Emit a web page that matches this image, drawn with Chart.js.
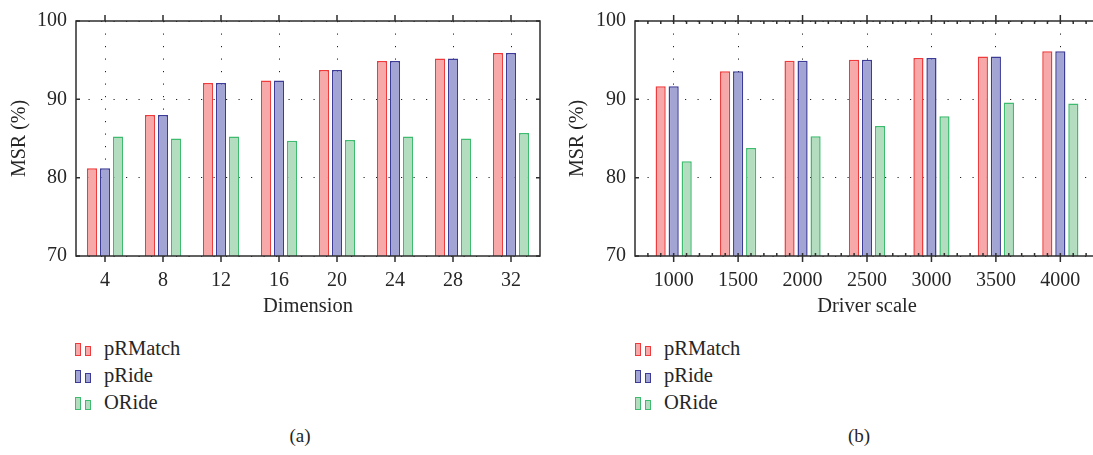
<!DOCTYPE html>
<html>
<head>
<meta charset="utf-8">
<script src="https://cdn.jsdelivr.net/npm/chart.js@4.4.1/dist/chart.umd.min.js"></script>
<style>
  html, body { margin: 0; padding: 0; background: #fff; overflow: hidden; width: 1093px; height: 455px; }
  body { position: relative; font-family: "Liberation Serif", serif; color: #262626; }
  .clip { position: absolute; top: 0; height: 319px; overflow: hidden; }
  canvas { position: absolute; top: 0; left: 0; }
  .legend { position: absolute; top: 335px; font-size: 20.5px; }
  .row { position: absolute; left: 0; height: 27px; line-height: 27px; white-space: nowrap; }
  .row .bar { position: absolute; width: 4px; box-sizing: content-box; }
  .row .txt { position: absolute; left: 29px; top: 0; }
  .cap { position: absolute; top: 425px; font-size: 19px; transform: translateX(-50%); }
</style>
</head>
<body>
<div class="clip" style="left:0;width:546px"><canvas id="chartA" width="546" height="319"></canvas></div>
<div class="clip" style="left:550px;width:543px"><canvas id="chartB" width="555" height="319"></canvas></div>
<div class="legend" id="legendA" style="left:75px"></div>
<div class="legend" id="legendB" style="left:635px"></div>
<div class="cap" style="left:300px">(a)</div>
<div class="cap" style="left:859px">(b)</div>
<script>
// (a) MSR vs dimension
const dims = [4, 8, 12, 16, 20, 24, 28, 32];
const dimPRMatch = [81.2, 88.0, 92.1, 92.4, 93.75, 94.9, 95.2, 95.9];
const dimPRide = [81.2, 88.0, 92.1, 92.4, 93.75, 94.9, 95.2, 95.9];
const dimORide = [85.25, 85.0, 85.25, 84.7, 84.8, 85.25, 85.0, 85.7];

// (b) MSR vs driver scale
const drivers = [1000, 1500, 2000, 2500, 3000, 3500, 4000];
const drvPRMatch = [91.67, 93.58, 94.92, 95.04, 95.29, 95.46, 96.13];
const drvPRide = [91.67, 93.58, 94.92, 95.04, 95.29, 95.46, 96.13];
const drvORide = [82.08, 83.79, 85.29, 86.58, 87.83, 89.58, 89.46];

const yTicks = [70, 80, 90, 100];
const seriesNames = ['pRMatch', 'pRide', 'ORide'];
const fills = ['#f7a9a9', '#a2a4d3', '#b4ddc0'];
const strokes = ['#ef3b3b', '#3c3c97', '#3dbb6e'];

const serif = '"Liberation Serif", serif';
const ink = '#262626';
const fontSize = 20;

// box, inward/outward tick marks
const framePlugin = {
  id: 'frame',
  afterDraw(chart, args, opts) {
    const { ctx, chartArea: a, scales: { x, y } } = chart;
    ctx.save();
    ctx.strokeStyle = '#2e2e2e';
    ctx.lineWidth = 1.5;
    ctx.strokeRect(a.left, a.top, a.right - a.left, a.bottom - a.top);
    ctx.beginPath();
    x.ticks.forEach(t => {
      const px = x.getPixelForValue(t.value);
      ctx.moveTo(px, a.top - 6); ctx.lineTo(px, a.top);
      ctx.moveTo(px, a.bottom); ctx.lineTo(px, a.bottom + 6);
    });
    y.ticks.forEach(t => {
      const py = y.getPixelForValue(t.value);
      ctx.moveTo(a.left, py); ctx.lineTo(a.left + 4, py);
      ctx.moveTo(a.right, py); ctx.lineTo(a.right - 4, py);
    });
    if (opts.minorStep) {
      for (let v = x.min + opts.minorStep; v < x.max; v += opts.minorStep) {
        const px = x.getPixelForValue(v);
        ctx.moveTo(px, a.top); ctx.lineTo(px, a.top + 3);
        ctx.moveTo(px, a.bottom); ctx.lineTo(px, a.bottom - 3);
      }
    }
    ctx.stroke();
    ctx.restore();
  }
};

function makeChart(id, cats, series, cfg) {
  const datasets = series.map((vals, i) => ({
    label: seriesNames[i],
    data: cats.map((c, j) => ({ x: c, y: vals[j] })),
    backgroundColor: fills[i],
    borderColor: strokes[i],
    borderWidth: 1.5,
    borderSkipped: false,
    categoryPercentage: cfg.catPct,
    barPercentage: 0.78
  }));
  return new Chart(document.getElementById(id), {
    type: 'bar',
    data: { datasets },
    plugins: [framePlugin],
    options: {
      responsive: false,
      animation: false,
      devicePixelRatio: 1,
      layout: { padding: { left: 0, top: 16, right: 6, bottom: 0 } },
      plugins: {
        legend: { display: false },
        tooltip: { enabled: false },
        frame: { minorStep: cfg.minorStep }
      },
      scales: {
        x: {
          type: 'linear',
          min: cfg.min,
          max: cfg.max,
          offset: false,
          afterBuildTicks: s => { s.ticks = cats.map(v => ({ value: v })); },
          afterFit: s => { s.height = 63; },
          grid: { color: '#222', lineWidth: 1, drawTicks: false, offset: false },
          border: { display: false, dash: [1.2, 11.3] },
          ticks: {
            padding: 13,
            color: ink,
            font: { family: serif, size: fontSize },
            callback: v => String(v)
          },
          title: {
            display: true,
            text: cfg.xTitle,
            color: ink,
            font: { family: serif, size: 20.5 },
            padding: { top: 0, bottom: 0 }
          }
        },
        y: {
          min: 70,
          max: 100,
          afterBuildTicks: s => { s.ticks = yTicks.map(v => ({ value: v })); },
          afterFit: s => { s.width = cfg.yWidth; },
          grid: { color: '#222', lineWidth: 1, drawTicks: false },
          border: { display: false, dash: [1.2, 11.3] },
          ticks: { padding: 9, color: ink, font: { family: serif, size: fontSize } },
          title: {
            display: true,
            text: 'MSR (%)',
            color: ink,
            font: { family: serif, size: fontSize },
            padding: { top: cfg.yTitlePad, bottom: 0 }
          }
        }
      }
    }
  });
}

function buildLegend(chart, id) {
  const box = document.getElementById(id);
  chart.data.datasets.forEach((ds, i) => {
    const row = document.createElement('div');
    row.className = 'row';
    row.style.top = (i * 27) + 'px';
    const b1 = document.createElement('div');
    b1.className = 'bar';
    b1.style.cssText = `left:0;top:8px;height:11px;background:${ds.backgroundColor};border:1.5px solid ${ds.borderColor}`;
    const b2 = document.createElement('div');
    b2.className = 'bar';
    b2.style.cssText = `left:10px;top:11px;height:8px;background:${ds.backgroundColor};border:1.5px solid ${ds.borderColor}`;
    const t = document.createElement('span');
    t.className = 'txt';
    t.textContent = ds.label;
    row.append(b1, b2, t);
    box.appendChild(row);
  });
}

const chartA = makeChart('chartA', dims, [dimPRMatch, dimPRide, dimORide],
  { min: 2, max: 34, catPct: 0.672, xTitle: 'Dimension', yWidth: 76, yTitlePad: 7.5 });
const chartB = makeChart('chartB', drivers, [drvPRMatch, drvPRide, drvORide],
  { min: 700, max: 4300, catPct: 0.606, xTitle: 'Driver scale', yWidth: 85, yTitlePad: 15.5, minorStep: 100 });

buildLegend(chartA, 'legendA');
buildLegend(chartB, 'legendB');
</script>
</body>
</html>
